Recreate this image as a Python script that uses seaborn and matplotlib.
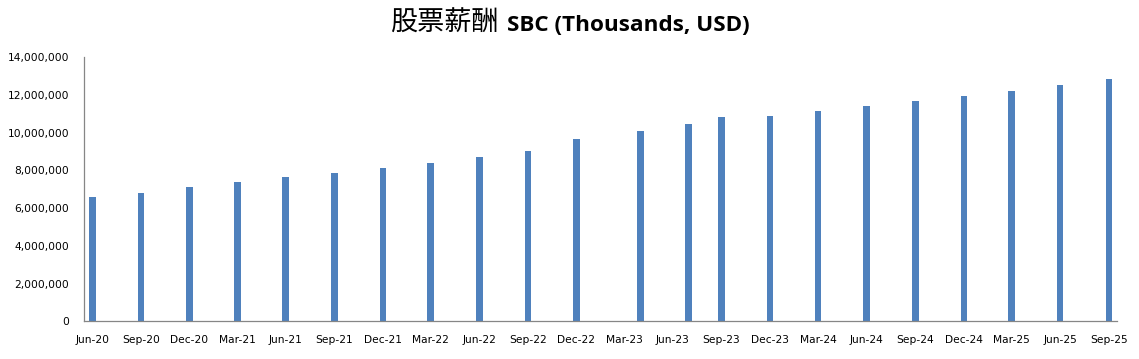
import matplotlib
matplotlib.use("Agg")
import matplotlib.pyplot as plt
import matplotlib.dates as mdates
import matplotlib.ticker as mticker
import seaborn as sns
import pandas as pd

# ---- data ----
periods = ["2020-06", "2020-09", "2020-12", "2021-03", "2021-06", "2021-09",
           "2021-12", "2022-03", "2022-06", "2022-09", "2022-12", "2023-04",
           "2023-07", "2023-09", "2023-12", "2024-03", "2024-06", "2024-09",
           "2024-12", "2025-03", "2025-06", "2025-09"]
sbc = [6600000, 6830000, 7130000, 7400000, 7660000, 7880000,
       8140000, 8420000, 8690000, 9040000, 9680000, 10110000,
       10480000, 10850000, 10900000, 11170000, 11430000, 11700000,
       11970000, 12230000, 12550000, 12870000]
title_cn = "股票薪酬"
title_en = "SBC (Thousands, USD)"

# ---- style ----
sns.set_style("white")
plt.rcParams["font.family"] = ["DejaVu Sans", "Noto Sans CJK SC"]
plt.rcParams["text.color"] = "black"

fig = plt.figure(figsize=(11.39, 3.59), dpi=100)
ax = fig.add_axes([84.3 / 1139, 1 - 321.3 / 359, (1116.8 - 84.3) / 1139, (321.3 - 57.3) / 359])

def mid_month(s):
    p = pd.Period(s, "M")
    return mdates.date2num(p.start_time + (p.end_time - p.start_time) / 2)

xpos = [mid_month(p) for p in periods]
min_gap = min(b - a for a, b in zip(xpos[:-1], xpos[1:]))
bar_days = 12.6
df = pd.DataFrame({"x": xpos, "y": sbc})
sns.barplot(data=df, x="x", y="y", native_scale=True, width=bar_days / min_gap,
            color="#4F81BD", saturation=1, linewidth=0, ax=ax, errorbar=None)

x0 = mdates.date2num(pd.Timestamp("2020-06-01"))
x1 = mdates.date2num(pd.Timestamp("2025-10-01"))
ax.set_xlim(x0, x1)
ax.set_ylim(0, 14000000)

tick_starts = pd.date_range("2020-06-01", "2025-09-01", freq="3MS")
major = [mdates.date2num(t) for t in tick_starts]
minor = [mid_month(t.strftime("%Y-%m")) for t in tick_starts]
ax.set_xticks(major)
ax.set_xticklabels([""] * len(major))
ax.set_xticks(minor, minor=True)
ax.set_xticklabels([t.strftime("%b-%y") for t in tick_starts], minor=True)
ax.tick_params(axis="x", which="minor", length=0, pad=10, labelsize=7.7, labelcolor="black")
ax.tick_params(axis="x", which="major", length=4, width=0.8, color="#868686", direction="out")
ax.set_yticks(range(0, 14000001, 2000000))
ax.yaxis.set_major_formatter(mticker.FuncFormatter(lambda v, p: f"{v:,.0f}"))
ax.tick_params(axis="y", length=4, width=0.8, color="#868686", direction="out", pad=7,
               labelsize=7.7, labelcolor="black")
ax.set_xlabel("")
ax.set_ylabel("")

for s in ["top", "right"]:
    ax.spines[s].set_visible(False)
for s in ["left", "bottom"]:
    ax.spines[s].set_color("#868686")
    ax.spines[s].set_linewidth(0.9)

# ---- title ----
yb = 1 - 31 / 359
fig.text(499 / 1139, yb, title_cn, ha="right", va="baseline", fontsize=19.5,
         family=["Noto Sans CJK SC"], color="black")
fig.text(507 / 1139, yb, title_en, ha="left", va="baseline", fontsize=16.2,
         family=["Open Sans"], fontweight="bold", color="black")

fig.savefig("out.png", dpi=100)
